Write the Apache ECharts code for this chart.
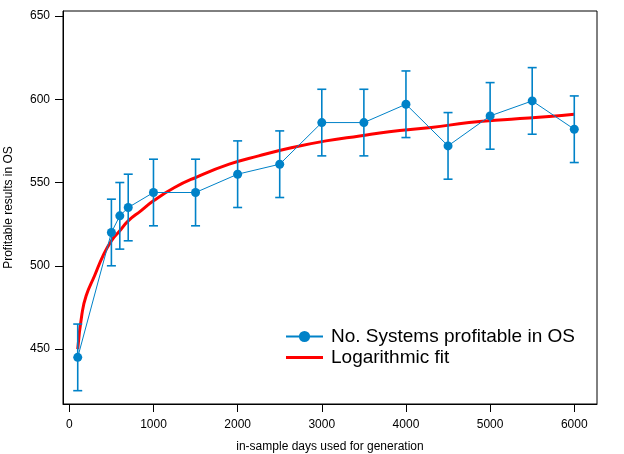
<!DOCTYPE html>
<html>
<head>
<meta charset="utf-8">
<script src="https://cdn.jsdelivr.net/npm/echarts@6/dist/echarts.min.js"></script>
<style>
html,body{margin:0;padding:0;background:#fff;}
#chart{width:624px;height:454px;}
</style>
</head>
<body>
<div id="chart"></div>
<script>
// ---- data ----
const days = [100, 500, 600, 700, 1000, 1500, 2000, 2500, 3000, 3500, 4000, 4500, 5000, 5500, 6000];
const profitable = [445, 520, 530, 535, 544, 544, 555, 561, 586, 586, 597, 572, 590, 599, 582];
const errors = [20, 20, 20, 20, 20, 20, 20, 20, 20, 20, 20, 20, 20, 20, 20];
const fitDays = [100, 150, 200, 300, 400, 500, 600, 700, 850, 1000, 1250, 1500, 1900, 2250, 2650, 3050, 3450, 3800, 4300, 4750, 5250, 5700, 6000];
const fitValues = [450, 471, 482, 494, 506, 515, 521, 527, 533, 539, 547, 553, 561, 566, 571, 575, 578, 580.5, 583, 586, 588, 589.6, 591];
const xTicks = [0, 1000, 2000, 3000, 4000, 5000, 6000];
const yTicks = [450, 500, 550, 600, 650];
const seriesName = 'No. Systems profitable in OS';
const fitName = 'Logarithmic fit';
const xTitle = 'in-sample days used for generation';
const yTitle = 'Profitable results in OS';

const blue = '#0082C8';
const red = '#FF0000';
const font = 'Liberation Sans, Arial, sans-serif';

const pointData = days.map((d, i) => [d, profitable[i]]);
const errData = days.map((d, i) => [d, profitable[i] - errors[i], profitable[i] + errors[i]]);
const fitData = fitDays.map((d, i) => [d, fitValues[i]]);

const chart = echarts.init(document.getElementById('chart'), null, {renderer: 'canvas'});
chart.setOption({
  animation: false,
  backgroundColor: '#fff',
  textStyle: {fontFamily: font},
  grid: {left: 63, right: 27, top: 11, bottom: 50, containLabel: false, outerBoundsMode: 'none',
    show: true, borderColor: '#000', borderWidth: 1, backgroundColor: 'transparent'},
  legend: {
    data: [
      {name: seriesName},
      {name: fitName, icon: 'path://M0,0 L38,0 L38,3 L0,3 Z'}
    ],
    orient: 'vertical',
    left: 285,
    top: 327,
    padding: 0,
    itemWidth: 37,
    itemHeight: 14,
    itemGap: 2,
    textStyle: {fontSize: 19, color: '#000', fontFamily: font, padding: [0, 0, 0, 3]}
  },
  xAxis: {
    type: 'value',
    min: -75,
    max: 6270,
    name: xTitle,
    nameLocation: 'middle',
    nameGap: 37,
    nameTextStyle: {fontSize: 12, color: '#000', fontFamily: font},
    splitLine: {show: false},
    axisLine: {show: true, onZero: false, lineStyle: {color: '#000', width: 1}},
    axisTick: {show: true, inside: false, length: 8, customValues: xTicks, lineStyle: {color: '#000'}},
    axisLabel: {customValues: xTicks, color: '#000', fontSize: 12, margin: 15, fontFamily: font,
      formatter: function (v) { return String(v); }}
  },
  yAxis: {
    type: 'value',
    min: 417,
    max: 653,
    name: yTitle,
    nameLocation: 'middle',
    nameGap: 48,
    nameTextStyle: {fontSize: 12, color: '#000', fontFamily: font},
    splitLine: {show: false},
    axisLine: {show: true, onZero: false, lineStyle: {color: '#000', width: 1}},
    axisTick: {show: true, inside: false, length: 8, customValues: yTicks, lineStyle: {color: '#000'}},
    axisLabel: {customValues: yTicks, color: '#000', fontSize: 12, margin: 13, fontFamily: font,
      formatter: function (v) { return String(v); }}
  },
  series: [
    {
      name: fitName,
      type: 'line',
      data: fitData,
      smooth: true,
      showSymbol: false,
      symbol: 'none',
      lineStyle: {color: red, width: 3},
      itemStyle: {color: red},
      z: 2
    },
    {
      name: 'errors',
      type: 'custom',
      data: errData,
      encode: {x: 0, y: [1, 2]},
      z: 3,
      renderItem: function (params, api) {
        const x = api.value(0);
        const pLo = api.coord([x, api.value(1)]);
        const pHi = api.coord([x, api.value(2)]);
        const hw = 4.5;
        const st = {stroke: blue, lineWidth: 1.6};
        return {
          type: 'group',
          children: [
            {type: 'line', shape: {x1: pHi[0], y1: pHi[1], x2: pLo[0], y2: pLo[1]}, style: st},
            {type: 'line', shape: {x1: pHi[0] - hw, y1: pHi[1], x2: pHi[0] + hw, y2: pHi[1]}, style: st},
            {type: 'line', shape: {x1: pLo[0] - hw, y1: pLo[1], x2: pLo[0] + hw, y2: pLo[1]}, style: st}
          ]
        };
      }
    },
    {
      name: seriesName,
      type: 'line',
      data: pointData,
      symbol: 'circle',
      symbolSize: 9,
      showAllSymbol: true,
      lineStyle: {color: blue, width: 1},
      itemStyle: {color: blue},
      z: 4
    }
  ]
});
</script>
</body>
</html>
